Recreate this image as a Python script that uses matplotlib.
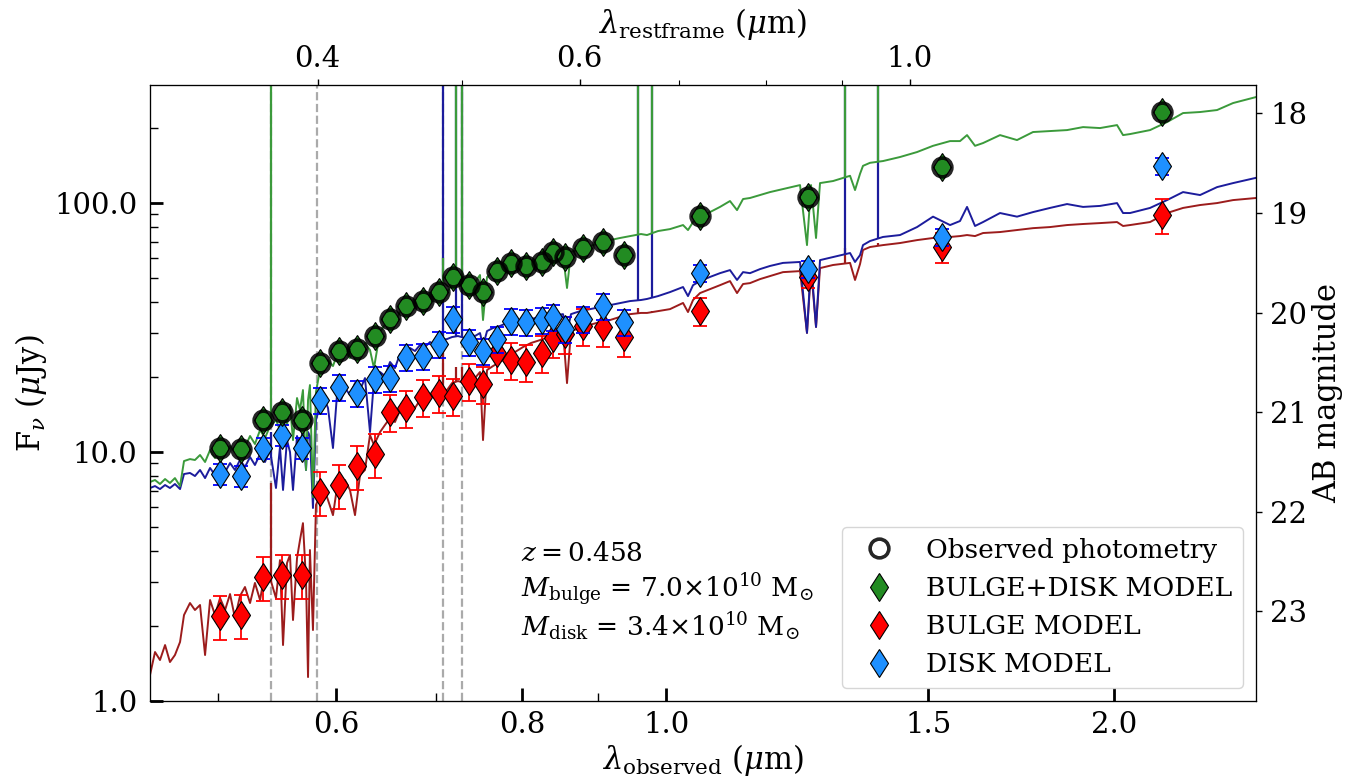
import numpy as np
import matplotlib
matplotlib.use("Agg")
import matplotlib.pyplot as plt
from matplotlib.ticker import (FixedLocator, FormatStrFormatter, LogLocator,
                               NullFormatter, NullLocator)

plt.rcParams["font.family"] = "serif"
plt.rcParams["font.serif"] = ["DejaVu Serif"]
plt.rcParams["mathtext.fontset"] = "dejavuserif"

REDSHIFT = 0.458
AB_ZP = 23.9          # AB zero point for fluxes in uJy

# ── model spectra (observed wavelength in um, flux in uJy) ─────────────────
spec_lam = [
    0.4500, 0.4535, 0.4570, 0.4606, 0.4641, 0.4677, 0.4714, 0.4743, 0.4787, 0.4824,
    0.4862, 0.4900, 0.4938, 0.4976, 0.5015, 0.5054, 0.5093, 0.5132, 0.5172, 0.5212,
    0.5253, 0.5293, 0.5335, 0.5376, 0.5418, 0.5468, 0.5502, 0.5528, 0.5562, 0.5588,
    0.5614, 0.5649, 0.5675, 0.5701, 0.5728, 0.5746, 0.5763, 0.5790, 0.5817, 0.5853,
    0.5890, 0.5926, 0.5972, 0.6009, 0.6047, 0.6084, 0.6131, 0.6179, 0.6227, 0.6275,
    0.6324, 0.6363, 0.6423, 0.6472, 0.6523, 0.6573, 0.6624, 0.6676, 0.6728, 0.6780,
    0.6833, 0.6886, 0.6939, 0.6993, 0.7047, 0.7124, 0.7179, 0.7246, 0.7325, 0.7382,
    0.7439, 0.7497, 0.7532, 0.7579, 0.7649, 0.7733, 0.7817, 0.7914, 0.8013, 0.8112,
    0.8226, 0.8328, 0.8445, 0.8524, 0.8577, 0.8630, 0.8751, 0.8888, 0.9026, 0.9167,
    0.9310, 0.9455, 0.9617, 0.9707, 0.9873, 1.0058, 1.0263, 1.0342, 1.0423, 1.0536,
    1.0700, 1.0867, 1.1036, 1.1157, 1.1261, 1.1383, 1.1561, 1.1741, 1.1979, 1.2299,
    1.2432, 1.2510, 1.2607, 1.2685, 1.2943, 1.3288, 1.3391, 1.3495, 1.3557, 1.3705,
    1.3983, 1.4356, 1.4739, 1.5108, 1.5511, 1.5752, 1.5924, 1.6122, 1.6323, 1.6758,
    1.7204, 1.7635, 1.8105, 1.8588, 1.9054, 1.9561, 2.0082, 2.0270, 2.0490, 2.1134,
    2.1697, 2.2241, 2.2834, 2.3442, 2.4030, 2.4900,
]
spec_total = [
    7.58, 7.72, 7.44, 7.79, 7.51, 7.86, 7.30, 9.20, 9.37, 9.29,
    9.73, 9.12, 10.19, 9.46, 10.38, 9.73, 10.57, 10.0, 11.17, 10.47,
    11.60, 10.77, 12.26, 11.38, 12.72, 13.44, 12.26, 14.75, 12.84, 15.45,
    11.17, 16.48, 14.75, 17.74, 8.47, 16.17, 18.58, 6.59, 17.42, 21.35,
    22.15, 23.42, 22.15, 24.53, 22.99, 25.21, 23.85, 26.41, 24.98, 27.41,
    25.68, 21.74, 30.34, 32.5, 34.52, 33.27, 36.5, 37.87, 36.5, 40.03,
    40.78, 38.93, 42.71, 41.16, 44.73, 43.92, 46.84, 47.72, 45.56, 50.0,
    48.16, 51.4, 33.9, 50.5, 52.8, 54.8, 52.8, 55.9, 58.0, 56.9,
    60.7, 59.6, 63.6, 61.8, 45.6, 63.6, 65.4, 67.2, 69.1, 71.0,
    72.4, 73.7, 75.1, 74.4, 77.2, 78.6, 81.6, 77.9, 83.9, 88.2,
    92.0, 96.5, 101.9, 93.7, 103.8, 104.8, 107.7, 110.7, 113.8, 118.1,
    67.8, 118.1, 72.4, 120.3, 122.6, 128.7, 112.8, 131.1, 141.1, 145.1,
    147.5, 153.1, 160.3, 169.8, 177.4, 177.4, 187.5, 169.8, 174.2, 187.5,
    179.1, 192.9, 194.6, 196.4, 201.9, 200.1, 205.7, 187.5, 189.3, 196.4,
    211.5, 229.9, 232.1, 236.4, 252.2, 266.6,
]
spec_disk = [
    7.17, 7.30, 7.10, 7.37, 7.17, 7.44, 7.10, 8.16, 8.24, 8.01,
    8.47, 7.86, 8.63, 8.08, 8.79, 8.31, 9.03, 8.47, 9.29, 8.71,
    9.55, 8.87, 9.82, 9.12, 10.19, 7.17, 10.47, 7.04, 11.17, 10.0,
    7.04, 11.60, 10.38, 12.49, 8.47, 12.03, 11.60, 5.96, 13.44, 15.45,
    16.48, 15.04, 10.38, 16.93, 16.17, 18.1, 16.93, 18.92, 17.74, 19.82,
    12.03, 19.46, 20.96, 20.2, 22.99, 21.74, 24.76, 25.21, 26.17, 25.45,
    26.92, 26.41, 27.66, 26.92, 28.16, 28.43, 28.96, 29.24, 28.69, 29.78,
    29.24, 30.06, 26.67, 30.62, 31.48, 32.1, 33.0, 33.3, 33.9, 34.2,
    34.9, 35.2, 35.5, 35.8, 30.1, 35.8, 36.8, 37.5, 38.2, 38.9,
    39.7, 40.4, 40.8, 41.2, 42.3, 43.9, 46.0, 42.3, 46.8, 48.6,
    50.5, 52.3, 53.8, 49.1, 52.8, 52.3, 54.3, 55.9, 57.5, 58.0,
    30.1, 58.0, 31.8, 59.0, 60.7, 63.0, 58.0, 61.8, 67.8, 70.4,
    73.1, 74.4, 80.1, 88.2, 81.6, 84.7, 96.5, 80.9, 83.9, 91.2,
    88.2, 92.0, 95.6, 99.1, 96.5, 97.4, 100.0, 91.2, 91.2, 95.6,
    102.8, 110.7, 107.7, 115.9, 120.3, 126.3,
]
spec_bulge = [
    1.272, 1.573, 1.461, 1.678, 1.434, 1.530, 1.726, 2.215, 2.475, 2.320,
    2.430, 1.530, 2.545, 2.215, 2.592, 2.320, 2.689, 2.154, 2.641, 2.87,
    2.475, 2.98, 2.545, 3.30, 3.12, 2.592, 3.68, 1.678, 3.58, 3.86,
    2.115, 3.75, 4.43, 5.18, 3.06, 1.248, 4.04, 1.928, 6.13, 6.72,
    7.17, 6.42, 5.58, 7.17, 6.72, 7.72, 7.04, 5.58, 8.08, 8.47,
    11.71, 10.67, 12.03, 12.84, 13.70, 13.2, 14.75, 14.48, 15.45, 15.04,
    16.17, 15.74, 16.93, 16.48, 17.74, 17.74, 18.92, 19.28, 18.92, 20.2,
    19.82, 20.96, 11.17, 21.35, 22.15, 22.99, 24.08, 25.21, 26.41, 27.41,
    28.16, 28.96, 30.06, 30.62, 18.92, 30.62, 31.48, 32.45, 33.27, 33.9,
    34.9, 35.8, 36.2, 36.2, 36.8, 37.5, 39.7, 36.5, 40.8, 43.5,
    45.1, 46.8, 48.6, 43.5, 47.3, 47.7, 49.5, 50.9, 52.8, 53.3,
    30.1, 54.3, 31.8, 54.8, 56.4, 57.5, 49.1, 56.9, 64.8, 66.6,
    67.8, 69.1, 71.0, 72.4, 73.1, 73.7, 74.4, 73.7, 75.8, 76.5,
    77.9, 79.3, 80.1, 81.6, 82.4, 83.1, 83.9, 80.9, 81.6, 83.9,
    91.2, 95.6, 98.2, 100.0, 102.8, 104.8,
]

# emission lines: observed wavelength and peak flux of each component
line_lam = [0.543, 0.708, 0.722, 0.729, 0.957, 0.978, 1.318, 1.388]
line_peak_total = [1000, 60, 1000, 1000, 1000, 1000, 1000, 1000]
line_peak_disk = [12, 1000, 1000, 1000, 1000, 1000, 1000, 1000]
line_peak_bulge = [7.5, 25, 22, 22, 38, 37, 66, 69]

# spectral features marked with dashed lines ([OII], 4000A, Hbeta, [OIII])
feature_lam = [0.543, 0.583, 0.708, 0.729]

# ── photometry ──────────────────────────────────────────────────────────────
phot_lam = [0.5015, 0.5180, 0.5359, 0.5519, 0.5693, 0.5853, 0.6028, 0.6198,
            0.6373, 0.6523, 0.6686, 0.6864, 0.7036, 0.7190, 0.7370, 0.7532,
            0.7697, 0.7865, 0.8050, 0.8252, 0.8393, 0.8550, 0.8792, 0.9068,
            0.9367, 1.0536, 1.2452, 1.5320, 2.1529]
obs_flux = [10.38, 10.28, 13.44, 14.48, 13.44, 22.78, 25.45, 25.92, 29.24,
            34.2, 38.6, 40.4, 43.9, 50.5, 46.8, 43.9, 53.3, 57.5, 55.9, 58.0,
            63.6, 60.7, 66.0, 69.7, 61.8, 89.0, 105.7, 139.8, 232.1]
model_total = [10.38, 10.28, 13.44, 14.48, 13.44, 22.78, 25.45, 25.92, 29.24,
               34.2, 38.6, 40.4, 43.9, 50.5, 46.8, 43.9, 53.3, 57.5, 55.9, 58.0,
               63.6, 60.7, 66.0, 69.7, 61.8, 89.0, 105.7, 139.8, 232.1]
model_bulge = [2.194, 2.215, 3.148, 3.207, 3.207, 6.91, 7.37, 8.78, 9.82,
               14.48, 15.02, 16.63, 17.26, 16.79, 19.28, 18.76, 24.98, 23.41,
               22.98, 24.98, 28.70, 29.78, 32.06, 31.77, 28.96, 36.84, 50.45,
               66.6, 89.5]
model_disk = [8.16, 8.01, 10.38, 11.7, 10.38, 16.17, 18.24, 17.26, 19.65,
              19.83, 24.07, 24.29, 27.15, 34.2, 27.66, 25.45, 28.43, 33.58,
              33.27, 33.89, 34.84, 31.19, 34.2, 38.6, 33.27, 52.35, 54.3,
              73.0, 140.8]
# fractional uncertainties of the component fluxes
bulge_err = [0.20, 0.20, 0.20, 0.20, 0.20, 0.20, 0.20, 0.20, 0.20, 0.17,
             0.17, 0.17, 0.17, 0.17, 0.17, 0.17, 0.17, 0.17, 0.17, 0.17,
             0.17, 0.17, 0.17, 0.17, 0.17, 0.13, 0.10, 0.14, 0.16]
disk_err = [0.10, 0.10, 0.10, 0.10, 0.10, 0.12, 0.12, 0.12, 0.12, 0.12,
            0.12, 0.12, 0.12, 0.12, 0.12, 0.12, 0.12, 0.12, 0.12, 0.12,
            0.12, 0.12, 0.12, 0.12, 0.12, 0.08, 0.08, 0.08, 0.08]

XLIM = (0.45, 2.49)
YLIM = (1.0, 298.0)

C_TOT_SPEC, C_DISK_SPEC, C_BULGE_SPEC = "#3b9a3b", "#1c1c9c", "#9c1c1c"
C_TOT, C_BULGE, C_DISK = "forestgreen", "red", "dodgerblue"
MS_D = 14.5  # diamond marker size

fig, ax = plt.subplots(figsize=(13.49, 7.77), dpi=100)
fig.subplots_adjust(left=0.1112, right=0.9311, bottom=0.0978, top=0.8906)
ax.set_xscale("log")
ax.set_yscale("log")

for lam in feature_lam:
    ax.axvline(lam, color="#aaaaaa", ls="--", lw=1.6, zorder=1)

# spectra: bulge, disk, total (total on top)
for lam_s, flux_s, peaks, col in [
        (spec_lam, spec_bulge, line_peak_bulge, C_BULGE_SPEC),
        (spec_lam, spec_disk, line_peak_disk, C_DISK_SPEC),
        (spec_lam, spec_total, line_peak_total, C_TOT_SPEC)]:
    ax.plot(lam_s, flux_s, color=col, lw=1.4, zorder=2)
    base = np.interp(line_lam, lam_s, flux_s)
    ax.vlines(line_lam, base, peaks, color=col, lw=1.6, zorder=2)

ph = np.array(phot_lam)
fb, fd = np.array(model_bulge), np.array(model_disk)
ax.errorbar(ph, fb, yerr=fb * np.array(bulge_err), fmt="none", ecolor="red",
            elinewidth=1.3, capsize=5, capthick=1.3, zorder=4)
h_bulge, = ax.plot(ph, fb, "d", ms=MS_D, mfc=C_BULGE, mec="k", mew=0.8,
                   ls="none", zorder=5, label="BULGE MODEL")
ax.errorbar(ph, fd, yerr=fd * np.array(disk_err), fmt="none", ecolor="blue",
            elinewidth=1.3, capsize=5, capthick=1.3, zorder=5)
h_disk, = ax.plot(ph, fd, "d", ms=MS_D, mfc=C_DISK, mec="k", mew=0.8,
                  ls="none", zorder=6, label="DISK MODEL")
h_tot, = ax.plot(ph, model_total, "d", ms=MS_D, mfc=C_TOT, mec="k", mew=0.8,
                 ls="none", zorder=7, label="BULGE+DISK MODEL")
h_obs, = ax.plot(ph, obs_flux, "o", ms=13.5, mfc="none", mec="k", mew=2.6,
                 alpha=0.85, ls="none", zorder=8, label="Observed photometry")

ax.set_xlim(*XLIM)
ax.set_ylim(*YLIM)

# bottom / left ticks
ax.xaxis.set_major_locator(FixedLocator([0.6, 0.8, 1.0, 1.5, 2.0]))
ax.xaxis.set_major_formatter(FormatStrFormatter("%.1f"))
ax.xaxis.set_minor_locator(LogLocator(base=10, subs=np.arange(1, 10)))
ax.xaxis.set_minor_formatter(NullFormatter())
ax.yaxis.set_major_locator(FixedLocator([1, 10, 100]))
ax.yaxis.set_major_formatter(FormatStrFormatter("%.1f"))
ax.yaxis.set_minor_locator(LogLocator(base=10, subs=np.arange(2, 10)))
ax.yaxis.set_minor_formatter(NullFormatter())
ax.tick_params(which="major", direction="in", length=9.5, width=2, labelsize=21)
ax.tick_params(axis="y", which="major", pad=9)
ax.tick_params(axis="x", which="major", pad=7)
ax.tick_params(which="minor", direction="in", length=5.5, width=1)

ax.set_xlabel(r"$\lambda_{\rm observed}$ ($\mu$m)", fontsize=22, labelpad=2)
ax.set_ylabel(r"F$_\nu$ ($\mu$Jy)", fontsize=22, labelpad=4)

# top axis: rest-frame wavelength
axt = ax.twiny()
axt.set_xscale("log")
axt.set_xlim(XLIM[0] / (1 + REDSHIFT), XLIM[1] / (1 + REDSHIFT))
axt.xaxis.set_major_locator(FixedLocator([0.4, 0.6, 1.0]))
axt.xaxis.set_major_formatter(FormatStrFormatter("%.1f"))
axt.xaxis.set_minor_locator(LogLocator(base=10, subs=np.arange(1, 10)))
axt.xaxis.set_minor_formatter(NullFormatter())
axt.tick_params(which="major", direction="out", length=4, width=1, labelsize=21, pad=5)
axt.tick_params(which="minor", direction="out", length=3.5, width=0.8)
axt.set_xlabel(r"$\lambda_{\rm restframe}$ ($\mu$m)", fontsize=22, labelpad=8)

# right axis: AB magnitude
axr = ax.twinx()
axr.set_ylim(AB_ZP - 2.5 * np.log10(YLIM[0]), AB_ZP - 2.5 * np.log10(YLIM[1]))
axr.yaxis.set_major_locator(FixedLocator([18, 19, 20, 21, 22, 23]))
axr.yaxis.set_minor_locator(NullLocator())
axr.tick_params(which="major", direction="out", length=4, width=1, labelsize=21, pad=6)
axr.set_ylabel("AB magnitude", fontsize=22, labelpad=4)

ax.text(0.335, 0.227, r"$z = 0.458$", transform=ax.transAxes, fontsize=19)
ax.text(0.335, 0.167, r"$M_{\rm bulge}$ = 7.0$\times$10$^{10}$ M$_{\odot}$",
        transform=ax.transAxes, fontsize=19)
ax.text(0.335, 0.1055, r"$M_{\rm disk}$ = 3.4$\times$10$^{10}$ M$_{\odot}$",
        transform=ax.transAxes, fontsize=19)

leg = ax.legend(handles=[h_obs, h_tot, h_bulge, h_disk], loc="lower right",
                fontsize=19, numpoints=1)
leg.set_zorder(10)

fig.savefig("out.png", dpi=100)
